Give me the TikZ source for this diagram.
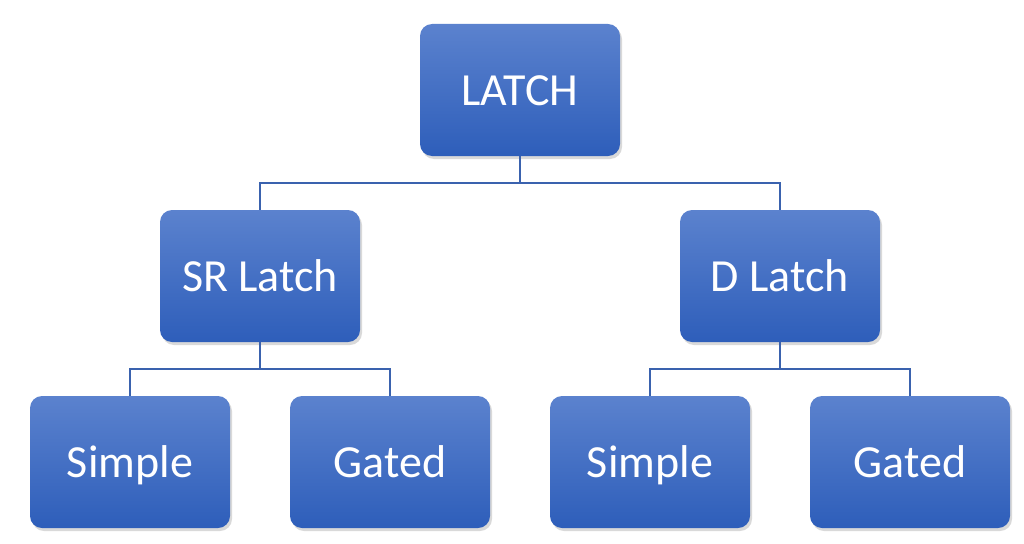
\documentclass[tikz,border=0pt]{standalone}
\usepackage{fontspec}
\setmainfont{Carlito}
\usepackage{tikz}
\usetikzlibrary{shadows}
\definecolor{boxtop}{HTML}{5B82CE}
\definecolor{boxbot}{HTML}{2E5EBA}
\definecolor{linkblue}{HTML}{3A62AE}

\begin{document}
\begin{tikzpicture}[x=1pt,y=-1pt,
  latchbox/.style={rectangle, rounded corners=12pt, minimum width=200pt, minimum height=132pt,
    top color=boxtop, bottom color=boxbot, text=white, font=\fontsize{46}{52}\selectfont,
    text height=30pt, text depth=0pt,
    drop shadow={shadow xshift=2pt, shadow yshift=-3pt, opacity=0.3}},
  level 1/.style={sibling distance=520pt, level distance=186pt},
  level 2/.style={sibling distance=260pt, level distance=186pt},
  edge from parent/.style={draw=linkblue, line width=1.6pt},
  edge from parent path={(\tikzparentnode.south) -- ++(0,27) -| (\tikzchildnode.north)}]
	\useasboundingbox (0,0) rectangle (1024,543);
	\node[latchbox] (latch) at (520,90) {LATCH}
	child {
	  node[latchbox] (sr_latch) {SR Latch}
          child {node[latchbox] (sr_simple) {Simple}}
          child {node[latchbox] (sr_gated) {Gated}}
	}
	child {
	  node[latchbox] (d_latch) {D Latch}
          child {node[latchbox] (d_simple) {Simple}}
          child {node[latchbox] (d_gated) {Gated}}
	};
      \end{tikzpicture}
\end{document}
